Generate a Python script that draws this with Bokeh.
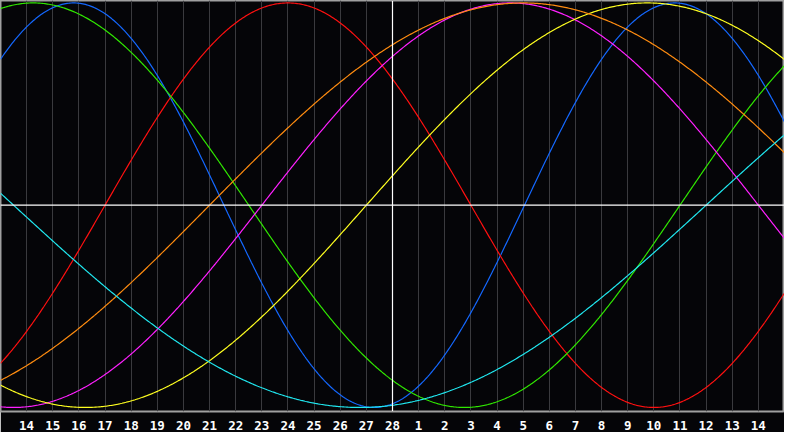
import numpy as np
from bokeh.plotting import figure
from bokeh.models import Range1d, FixedTicker, Span
from bokeh.embed import file_html
from bokeh.resources import INLINE

# biorhythm cycles: period in days and the cycle day at the left edge of the chart
cycles = ["Physical", "Emotional", "Intellectual", "Intuitive", "Aesthetic", "Awareness", "Spiritual"]
periods = [23, 28, 33, 38, 43, 48, 53]
offsets = [2.95, -4.0, 7.0, -10.0, -14.0, -8.0, -27.0]
colors = ["#1468ff", "#ff1010", "#30e800", "#ff20ff", "#ffff20", "#ff8c10", "#20e8f0"]

# day numbers under the grid lines (positions 1..29), today is position 15
day_ticks = list(range(1, 30))
day_labels = [str(d) for d in list(range(14, 29)) + list(range(1, 15))]
today = 15

p = figure(width=784, height=432, output_backend="svg", toolbar_location=None,
           x_range=Range1d(0, 30), y_range=Range1d(-1.02, 1.012),
           min_border_left=0, min_border_right=0, min_border_top=0, min_border_bottom=0)

p.background_fill_color = "#050508"
p.border_fill_color = "#050508"
p.outline_line_color = "#a0a0a0"
p.outline_line_width = 2

p.yaxis.visible = False
p.ygrid.visible = False

p.xaxis.ticker = FixedTicker(ticks=day_ticks)
p.xaxis.major_label_overrides = {t: l for t, l in zip(day_ticks, day_labels)}
p.xaxis.axis_line_color = None
p.xaxis.major_tick_line_color = None
p.xaxis.minor_tick_line_color = None
p.xaxis.major_label_standoff = 3
p.xaxis.major_label_text_color = "white"
p.xaxis.major_label_text_font = "DejaVu Sans Mono"
p.xaxis.major_label_text_font_style = "bold"
p.xaxis.major_label_text_font_size = "12.5px"

p.xgrid.ticker = FixedTicker(ticks=day_ticks)
p.xgrid.grid_line_color = "#3a3a3e"
p.xgrid.grid_line_width = 1

t = np.linspace(0, 30, 601)
for name, per, off, col in zip(cycles, periods, offsets, colors):
    p.line(t, np.sin(2 * np.pi * (t + off) / per), line_color=col, line_width=1.2)

p.add_layout(Span(location=today, dimension="height", line_color="white", line_width=1.2))
p.add_layout(Span(location=0, dimension="width", line_color="white", line_width=1.2))

open("out.html", "w").write(file_html(p, INLINE))
